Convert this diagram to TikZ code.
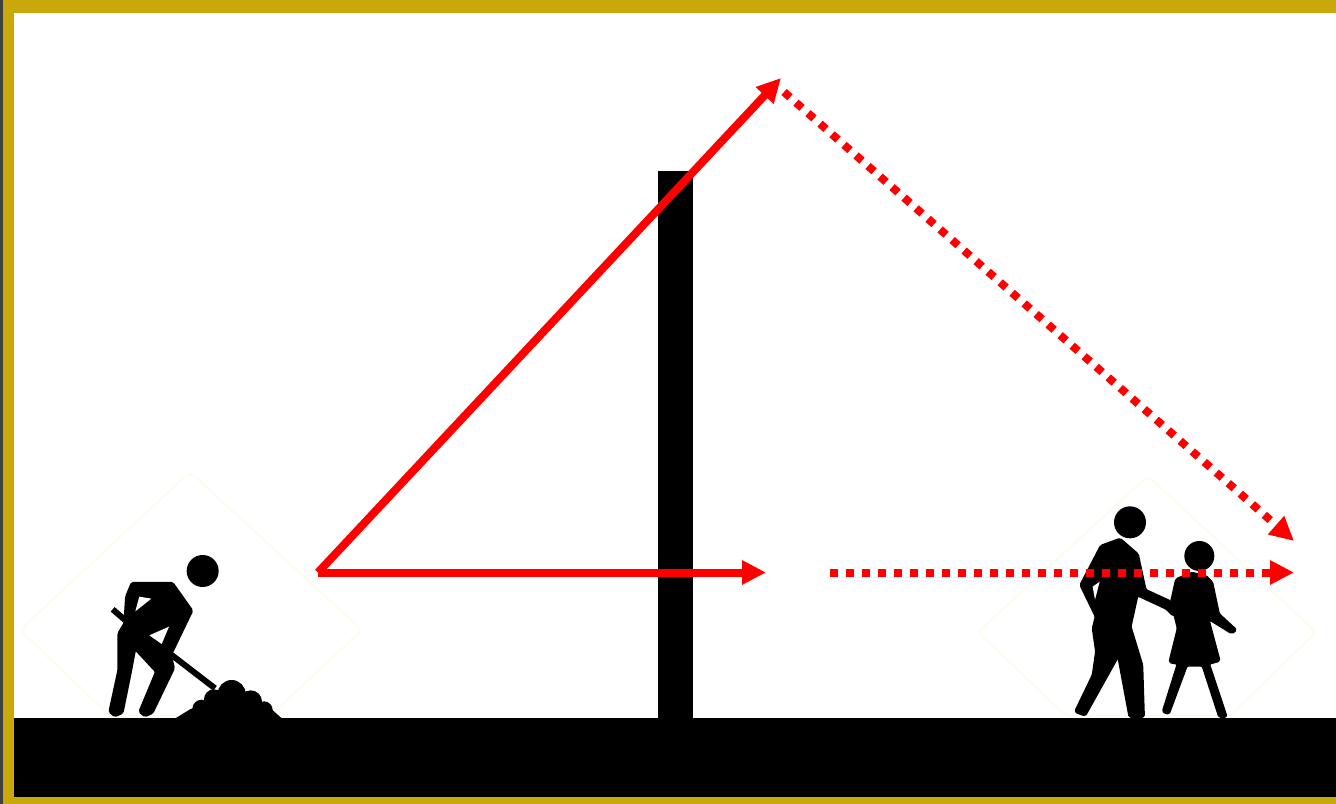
\documentclass[tikz,border=0pt]{standalone}
\usepackage{tikz}
\usetikzlibrary{arrows.meta}
\definecolor{framegold}{RGB}{200,168,10}
\definecolor{signtint}{RGB}{252,252,240}

\tikzset{
    ray/.style={red, line width=0.16cm, -{Triangle[length=0.48cm, width=0.46cm]}},
    shadowray/.style={red, line width=0.16cm, dash pattern=on 0.16cm off 0.16cm, -{Triangle[length=0.48cm, width=0.46cm]}},
    figure/.style={fill=black, line width=0.05cm, line join=round, rounded corners=0.03cm},
    gap/.style={fill=white},
    sign/.style={draw=signtint, line width=0.04cm, rounded corners=0.12cm}
}

\begin{document}
\begin{tikzpicture}[x=0.02cm, y=-0.02cm]
    \useasboundingbox (0,0) rectangle (1336,804);

    % Frame
    \fill[framegold] (0,0) rectangle (1336,804);
    \fill[white] (14,13) rectangle (1336,797);
    \fill[black!75] (0,0) rectangle (3,804);

    % Faint road signs behind the figures
    \draw[sign] (190,472) -- (362,630) -- (270,716) -- (110,716) -- (20,630) -- cycle;
    \draw[sign] (1148,476) -- (1316,632) -- (1230,716) -- (1066,716) -- (978,632) -- cycle;

    % Ground and wall
    \fill[black] (14,718) rectangle (1336,797);
    \fill[black] (658,171) rectangle (693,718);

    % Worker with shovel
    \begin{scope}[shift={(90,540)}, scale=1/3]
        \fill (338,93) circle [radius=48];
        \draw[line width=0.12cm] (68,208) -- (105,240);
        \draw[line width=0.12cm] (245,345) -- (375,445);
        \filldraw[figure] (126,129) -- (247,129) -- (306,212) -- (242,345) -- (251,385) -- (187,518)
            -- (165,528) -- (149,515) -- (199,395) -- (135,326) -- (121,400) -- (97,518)
            -- (75,528) -- (59,515) -- (86,390) -- (86,280) -- (104,250) -- (109,170) -- cycle;
        \fill[gap] (148,170) -- (184,176) -- (136,214) -- cycle;
        \fill[gap] (178,286) -- (237,260) -- (215,312) -- cycle;
        % Heap of earth
        \fill (258,534) -- (300,508) -- (345,490) -- (500,490) -- (545,508) -- (574,534) -- cycle;
        \fill (335,507) circle [radius=28];
        \fill (372,478) circle [radius=30];
        \fill (425,462) circle [radius=42];
        \fill (482,485) circle [radius=34];
        \fill (522,510) circle [radius=26];
    \end{scope}

    % Adult and child
    \begin{scope}[shift={(1060,495)}, scale=1/3]
        \fill (210,82) circle [radius=48];
        \filldraw[figure] (180,132) -- (123,153) -- (62,270) -- (108,365) -- (99,400) -- (109,470)
            -- (99,540) -- (46,650) -- (75,661) -- (175,482) -- (209,665) -- (251,665) -- (246,510)
            -- (211,395) -- (232,300) -- (320,341) -- (340,361) -- (354,355) -- (330,319) -- (256,285)
            -- (233,178) -- cycle;
        \fill[gap] (98,275) -- (119,260) -- (105,314) -- cycle;
        \fill (418,183) circle [radius=45];
        \filldraw[figure] (395,234) -- (349,253) -- (334,320) -- (354,400) -- (329,501) -- (354,506)
            -- (309,650) -- (326,656) -- (380,511) -- (428,511) -- (478,665) -- (499,665) -- (446,506)
            -- (478,497) -- (444,370) -- (515,414) -- (528,405) -- (476,357) -- (456,262) -- (438,244) -- cycle;
    \end{scope}

    % Ray ends
    \coordinate (source) at (318,572.5);
    \coordinate (peak) at (781,78);
    \coordinate (blocked) at (766,572.5);
    \coordinate (peakout) at (784,92);
    \coordinate (diffracted) at (1294,541);
    \coordinate (straightin) at (830,572.5);
    \coordinate (straightout) at (1294,572.5);

    % Rays
    \draw[ray] (source) -- (peak);
    \draw[ray] (source) -- (blocked);
    \draw[shadowray] (peakout) -- (diffracted);
    \draw[shadowray] (straightin) -- (straightout);
\end{tikzpicture}
\end{document}
